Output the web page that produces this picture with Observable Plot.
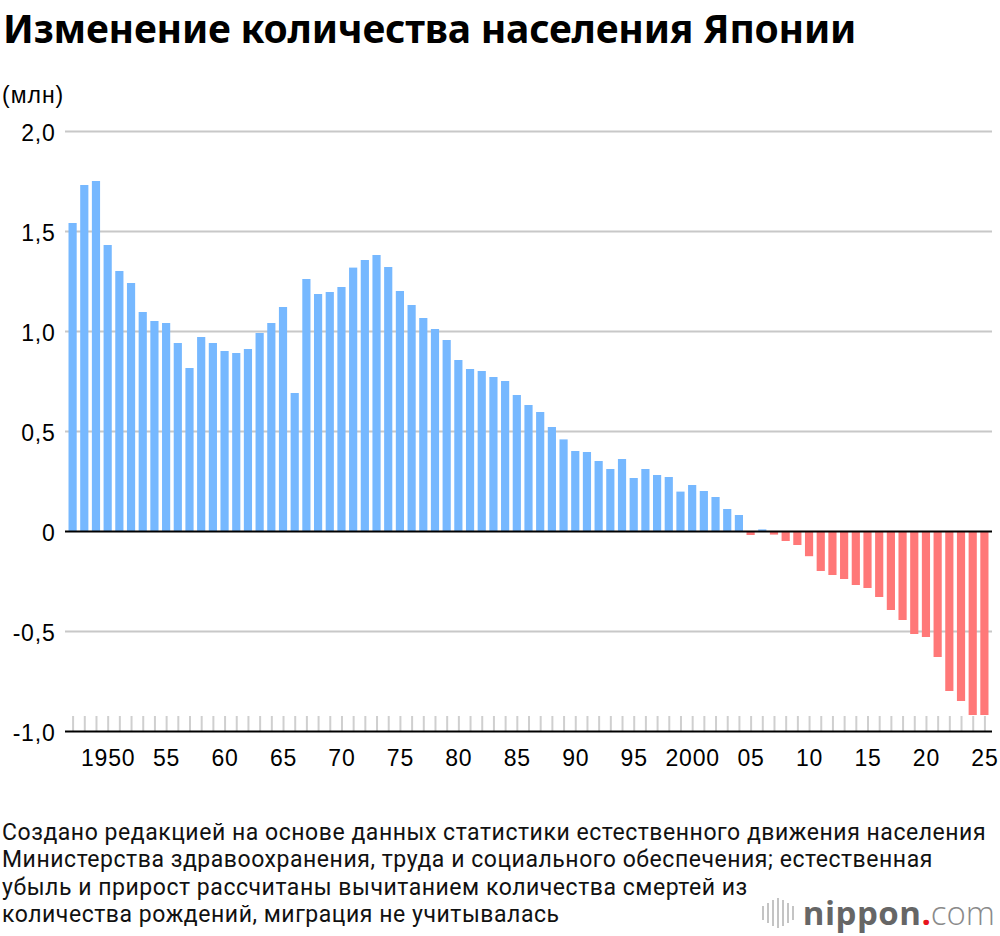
<!DOCTYPE html>
<html>
<head>
<meta charset="utf-8">
<script src="https://cdn.jsdelivr.net/npm/d3@7"></script>
<script src="https://cdn.jsdelivr.net/npm/@observablehq/plot@0.6"></script>
<style>
  html, body { margin: 0; padding: 0; background: #fff; width: 1000px; height: 936px; overflow: hidden; }
  #title { position: absolute; left: 3px; top: 1px; font-family: "Noto Sans", sans-serif; font-weight: 700; font-size: 39px; color: #000; white-space: nowrap; letter-spacing: -0.2px; }
  #unit { position: absolute; left: 2px; top: 82px; font-family: "Liberation Sans", Arial, sans-serif; font-size: 23px; letter-spacing: 1px; color: #000; }
  #chart { position: absolute; left: 0; top: 115px; }
  #caption { position: absolute; left: 2px; top: 819px; font-family: Roboto, sans-serif; font-size: 23px; line-height: 27.4px; color: #111; white-space: nowrap; letter-spacing: 0.54px; }
  #logo { position: absolute; right: 5px; top: 893px; display: flex; align-items: center; font-family: "Open Sans", sans-serif; font-size: 33px; line-height: 40px; }
  #logo .icon { display: flex; align-items: center; gap: 3px; margin-right: 9px; }
  #logo .icon span { display: block; width: 2px; background: #c4c4c4; }
  #logo .n { color: #666; font-weight: 700; letter-spacing: 0.5px; }
  #logo .dot { color: #e8141c; font-weight: 700; }
  #logo .com { color: #8a8a8a; font-weight: 300; }
</style>
</head>
<body>
<div id="title">Изменение количества населения Японии</div>
<div id="unit">(млн)</div>
<div id="chart"></div>
<div id="caption">Создано редакцией на основе данных статистики естественного движения населения<br>Министерства здравоохранения, труда и социального обеспечения; естественная<br>убыль и прирост рассчитаны вычитанием количества смертей из<br>количества рождений, миграция не учитывалась</div>
<div id="logo"><div class="icon"><span style="height:14px"></span><span style="height:20px"></span><span style="height:26px"></span><span style="height:30px"></span><span style="height:26px"></span><span style="height:20px"></span><span style="height:14px"></span></div><span class="n">nippon</span><span class="dot">.</span><span class="com">com</span></div>
<script>
const years = [1947,1948,1949,1950,1951,1952,1953,1954,1955,1956,1957,1958,1959,1960,1961,1962,1963,1964,1965,1966,1967,1968,1969,1970,1971,1972,1973,1974,1975,1976,1977,1978,1979,1980,1981,1982,1983,1984,1985,1986,1987,1988,1989,1990,1991,1992,1993,1994,1995,1996,1997,1998,1999,2000,2001,2002,2003,2004,2005,2006,2007,2008,2009,2010,2011,2012,2013,2014,2015,2016,2017,2018,2019,2020,2021,2022,2023,2024,2025];
const values = [1.54,1.73,1.75,1.43,1.30,1.24,1.095,1.05,1.04,0.94,0.815,0.97,0.94,0.90,0.89,0.91,0.99,1.04,1.12,0.69,1.26,1.185,1.195,1.22,1.317,1.355,1.38,1.32,1.20,1.13,1.065,1.01,0.955,0.855,0.81,0.80,0.77,0.75,0.68,0.63,0.595,0.52,0.458,0.40,0.395,0.35,0.31,0.36,0.265,0.31,0.28,0.27,0.197,0.23,0.20,0.17,0.11,0.08,-0.02,0.008,-0.018,-0.05,-0.07,-0.126,-0.20,-0.22,-0.24,-0.27,-0.285,-0.33,-0.395,-0.445,-0.515,-0.53,-0.63,-0.80,-0.85,-0.92,-0.92];
const labelYears = [1950,1955,1960,1965,1970,1975,1980,1985,1990,1995,2000,2005,2010,2015,2020,2025];
const yTicks = [-1, -0.5, 0, 0.5, 1, 1.5, 2];
const gridTicks = [-0.5, 0.5, 1, 1.5, 2];

const blue = "#76b8ff";
const red = "#ff7878";

const data = years.map((year, i) => ({year, value: values[i]}));
const fmtX = y => (y === 1950 || y === 2000) ? String(y) : String(y % 100).padStart(2, "0");
const fmtY = v => v === 0 ? "0" : v.toFixed(1).replace(".", ",");

const chart = Plot.plot({
  width: 1000,
  height: 666,
  marginTop: 16,
  marginBottom: 50,
  marginLeft: 65,
  marginRight: 8,
  style: {fontFamily: "'Liberation Sans', Arial, sans-serif", fontSize: "23px", letterSpacing: "0.8px", color: "#000", background: "transparent", overflow: "visible"},
  x: {type: "band", domain: years, padding: 0.3, axis: null},
  y: {domain: [-1, 2], axis: null},
  marks: [
    Plot.ruleY(gridTicks, {stroke: "#c8c8c8", strokeWidth: 2}),
    Plot.axisX({ticks: years, tickSize: -15, stroke: "#cfcfcf", strokeWidth: 2, text: null, label: null, strokeOpacity: 1}),
    Plot.barY(data, {x: "year", y: "value", fill: d => d.value >= 0 ? blue : red}),
    Plot.ruleY([0], {stroke: "#000", strokeWidth: 2}),
    Plot.ruleY([-1], {stroke: "#000", strokeWidth: 2}),
    Plot.axisX({ticks: labelYears, tickSize: 0, tickPadding: 18, tickFormat: fmtX, label: null, fontSize: 23, fill: "#000"}),
    Plot.axisY({ticks: yTicks, tickSize: 0, tickPadding: 10, tickFormat: fmtY, label: null, fontSize: 23, fill: "#000", dy: 2})
  ]
});
document.getElementById("chart").appendChild(chart);
</script>
</body>
</html>
